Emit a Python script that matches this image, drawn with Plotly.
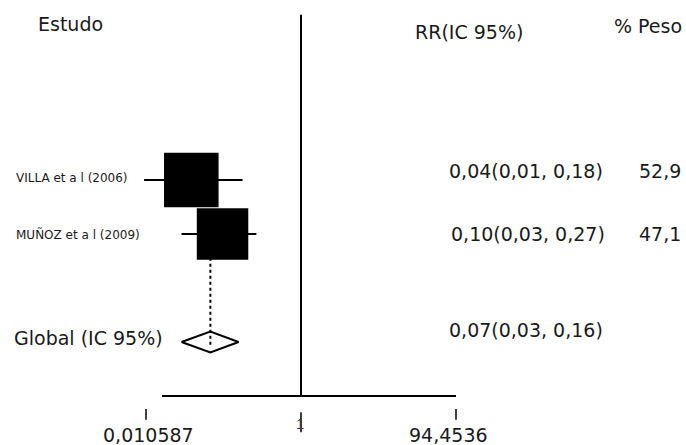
import numpy as np
import plotly.graph_objects as go

# ---------------- data ----------------
studies = ["VILLA et a l (2006)", "MUÑOZ et a l (2009)"]
rr = [0.04, 0.10]
ci_low = [0.01, 0.03]
ci_high = [0.18, 0.27]
weights = [52.9, 47.1]
rr_labels = ["0,04(0,01, 0,18)", "0,10(0,03, 0,27)"]
weight_labels = ["52,9", "47,1"]

overall_label = "Global (IC 95%)"
overall_rr = 0.07
overall_low = 0.03
overall_high = 0.16
overall_rr_label = "0,07(0,03, 0,16)"

tick_values = [0.010587, 1, 94.4536]
tick_labels = ["0,010587", "1", "94,4536"]
headers = ["Estudo", "RR(IC 95%)", "% Peso"]

# ---------------- layout constants ----------------
W, H = 686, 445
X_NULL_PX = 301.0            # pixel of RR = 1
PX_PER_DECADE = 78.47
ROW0_PX, ROW_H = 180.0, 54.0  # pixel of first row, row spacing
FONT = "DejaVu Sans"
BLACK = "#000000"
TXT = "#1a1a1a"

n = len(studies)
rows = list(range(n))
overall_row = n + 1
axis_row = n + 2


def py(px):
    return 1 - px / H


def px_x(px):
    return px / W


fig = go.Figure()

# CI whiskers
xs, ys = [], []
for lo, hi, r in zip(ci_low, ci_high, rows):
    xs += [lo, hi, None]
    ys += [r, r, None]
fig.add_trace(go.Scatter(x=xs, y=ys, mode="lines",
                         line=dict(color=BLACK, width=2), hoverinfo="skip"))

# overall diamond
dh = 0.195
fig.add_trace(go.Scatter(
    x=[overall_low, overall_rr, overall_high, overall_rr, overall_low],
    y=[overall_row, overall_row - dh, overall_row, overall_row + dh, overall_row],
    mode="lines", line=dict(color=BLACK, width=2), hoverinfo="skip"))

# dotted overall line
fig.add_trace(go.Scatter(x=[overall_rr, overall_rr], y=[-0.45, overall_row + 0.05],
                         mode="lines", line=dict(color=BLACK, width=2, dash="dot"),
                         hoverinfo="skip"))

# boxes (area proportional to weight)
sizes = [7.5 * np.sqrt(w) for w in weights]
fig.add_trace(go.Scatter(x=rr, y=rows, mode="markers",
                         marker=dict(symbol="square", size=sizes, color=BLACK, opacity=1,
                                     line=dict(width=0)),
                         hoverinfo="skip"))

# null line at RR = 1
fig.add_trace(go.Scatter(x=[1, 1], y=[-3.06, axis_row], mode="lines",
                         line=dict(color=BLACK, width=2), hoverinfo="skip"))

# x axis line
fig.add_trace(go.Scatter(x=[0.0169, tick_values[-1]], y=[axis_row, axis_row], mode="lines",
                         line=dict(color=BLACK, width=2), hoverinfo="skip"))

# tick marks
txs, tys = [], []
tick_len = {0: (4.24, 4.44), 1: (4.30, 4.67), 2: (4.24, 4.44)}
for i, tv in enumerate(tick_values):
    a, b = tick_len[i]
    txs += [tv, tv, None]
    tys += [axis_row + (a - 4), axis_row + (b - 4), None]
fig.add_trace(go.Scatter(x=txs, y=tys, mode="lines",
                         line=dict(color=BLACK, width=1.5), hoverinfo="skip"))

ann = []
# tick labels
tick_shift = [2, 0, -8]
for tv, tl, sh in zip(tick_values, tick_labels, tick_shift):
    if tl == "1":
        ann.append(dict(x=np.log10(tv), xref="x", y=py(423), yref="paper", text=tl,
                        showarrow=False, xanchor="center", yanchor="middle", xshift=-1,
                        font=dict(family="Liberation Sans", size=15, color="#333355")))
    else:
        ann.append(dict(x=np.log10(tv), xref="x", y=py(434.5), yref="paper", text=tl,
                        showarrow=False, xanchor="center", yanchor="middle", xshift=sh,
                        font=dict(family=FONT, size=19, color=TXT)))

# headers
hdr_pos = [(36, 24.5), (413, 32), (612, 26.5)]
for h, (hx, hy) in zip(headers, hdr_pos):
    ann.append(dict(x=px_x(hx), xref="paper", y=py(hy), yref="paper", text=h,
                    showarrow=False, xanchor="left", yanchor="middle",
                    font=dict(family=FONT, size=19, color=TXT)))

# study labels & columns
lab_y = [177.5, 234]
val_y = [170.5, 233.5]
val_x = [447, 449]
for i in range(n):
    ann.append(dict(x=px_x(14), xref="paper", y=py(lab_y[i]), yref="paper", text=studies[i],
                    showarrow=False, xanchor="left", yanchor="middle",
                    font=dict(family=FONT, size=12, color=TXT)))
    ann.append(dict(x=px_x(val_x[i]), xref="paper", y=py(val_y[i]), yref="paper",
                    text=rr_labels[i], showarrow=False, xanchor="left", yanchor="middle",
                    font=dict(family=FONT, size=19, color=TXT)))
    ann.append(dict(x=px_x(637), xref="paper", y=py(val_y[i]), yref="paper",
                    text=weight_labels[i], showarrow=False, xanchor="left", yanchor="middle",
                    font=dict(family=FONT, size=19, color=TXT)))

ann.append(dict(x=px_x(12), xref="paper", y=py(337.5), yref="paper", text=overall_label,
                showarrow=False, xanchor="left", yanchor="middle",
                font=dict(family=FONT, size=19, color=TXT)))
ann.append(dict(x=px_x(447), xref="paper", y=py(330), yref="paper", text=overall_rr_label,
                showarrow=False, xanchor="left", yanchor="middle",
                font=dict(family=FONT, size=19, color=TXT)))

fig.update_layout(
    width=W, height=H,
    margin=dict(l=0, r=0, t=0, b=0),
    paper_bgcolor="white", plot_bgcolor="white",
    showlegend=False,
    annotations=ann,
    xaxis=dict(type="log", visible=False,
               range=[(0 - X_NULL_PX) / PX_PER_DECADE, (W - X_NULL_PX) / PX_PER_DECADE]),
    yaxis=dict(visible=False,
               range=[(H - ROW0_PX) / ROW_H, (0 - ROW0_PX) / ROW_H]),
)

fig.write_html("out.html", config={"displayModeBar": False},
               post_script="document.body.style.margin='0px';document.body.style.overflow='hidden';")
